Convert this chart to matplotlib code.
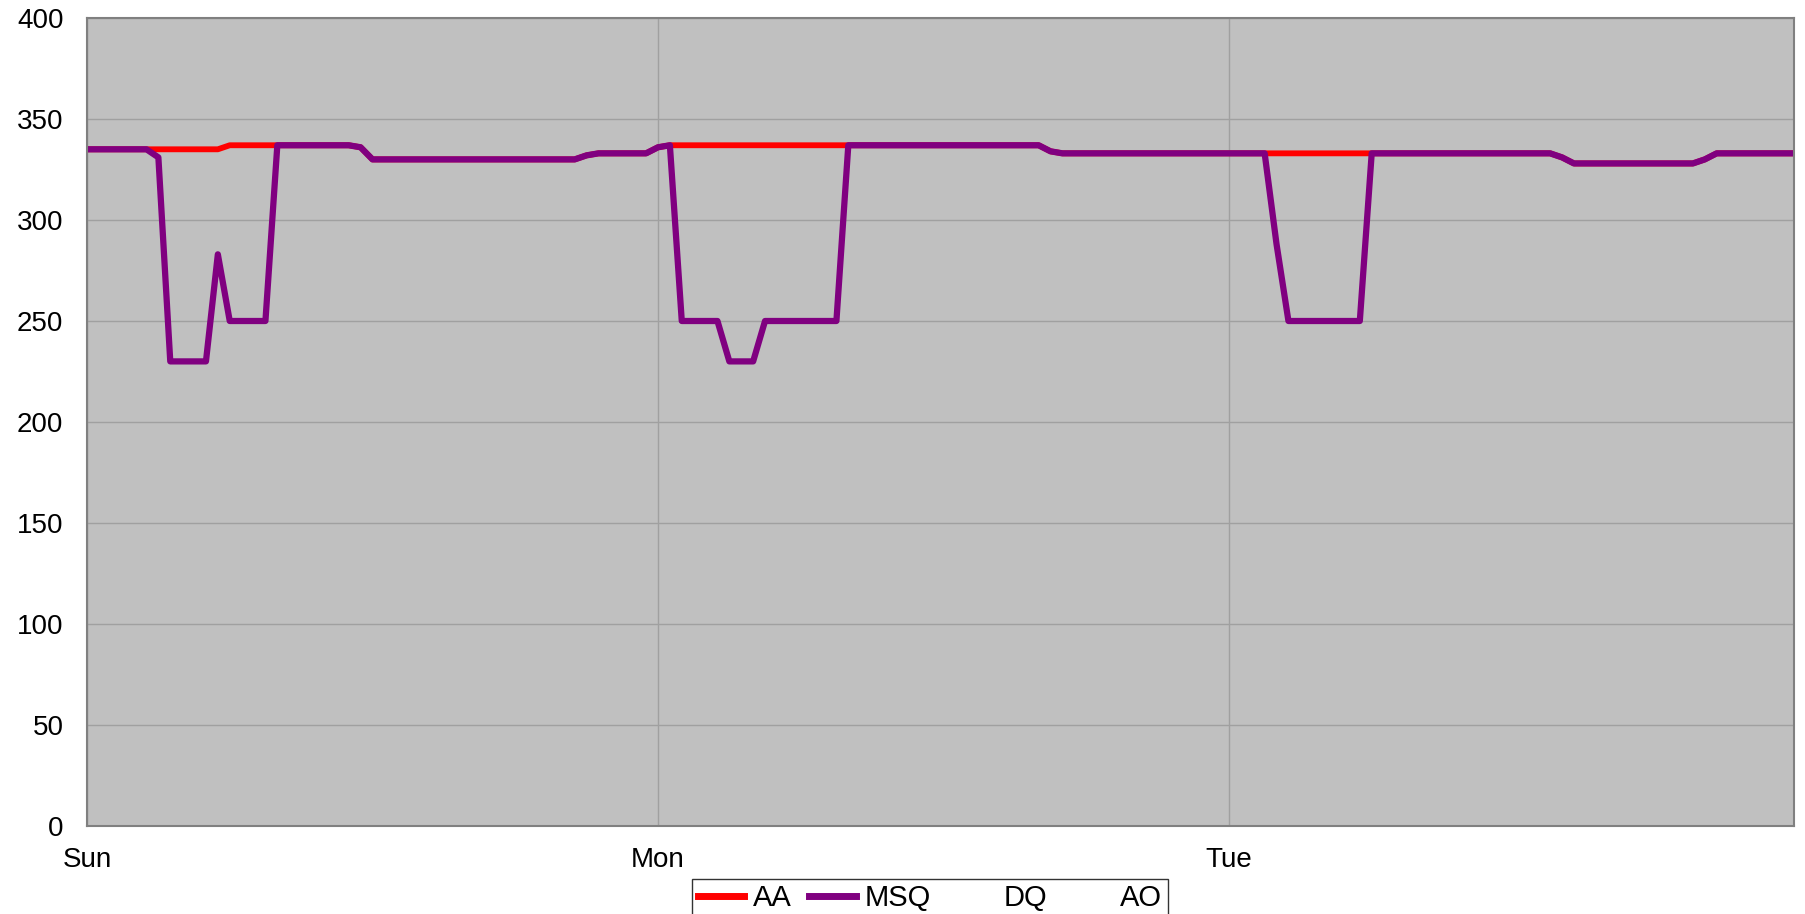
import numpy as np
import matplotlib.pyplot as plt

plt.rcParams['font.family'] = ['Liberation Sans', 'DejaVu Sans']

# half-hour samples over three days
days = ['Sun', 'Mon', 'Tue']
samples_per_day = 48

aa = ([335] * 12 + [337] * 11 + [336] + [330] * 18 + [332] + [333] * 5 + [336]
      + [337] * 32 + [334] + [333] * 42 + [331] + [328] * 11 + [330] + [333] * 8)
msq = ([335] * 6 + [331] + [230] * 4 + [283] + [250] * 4 + [337] * 7 + [336]
       + [330] * 18 + [332] + [333] * 5 + [336, 337] + [250] * 4 + [230] * 3
       + [250] * 7 + [337] * 17 + [334] + [333] * 18 + [288] + [250] * 7
       + [333] * 16 + [331] + [328] * 11 + [330] + [333] * 8)
dq = []
ao = []

t = np.arange(len(msq)) / samples_per_day

fig = plt.figure(figsize=(18.05, 9.14), dpi=100)
ax = fig.add_axes([87 / 1805, 1 - 826 / 914, (1794 - 87) / 1805, (826 - 18) / 914])
ax.set_facecolor('#c0c0c0')

ax.plot(t, aa, color='#ff0000', lw=4.2, solid_joinstyle='round', label='AA')
ax.plot(t, msq, color='#800080', lw=4.5, solid_joinstyle='round', label='MSQ')
ax.plot(dq, dq, color='white', lw=4, label='DQ')
ax.plot(ao, ao, color='white', lw=4, label='AO')

ax.set_xlim(0, 143.5 / samples_per_day)
ax.set_ylim(0, 400)
ax.set_yticks(np.arange(0, 401, 50))
ax.set_xticks(range(len(days)))
ax.set_xticklabels(days)
ax.tick_params(axis='both', length=0, labelsize=20)
ax.tick_params(axis='y', pad=17)
ax.tick_params(axis='x', pad=15)
ax.grid(True, color='#a0a0a0', lw=1)
ax.set_axisbelow(True)
for s in ax.spines.values():
    s.set_color('#808080')
    s.set_linewidth(1.5)

leg = fig.legend(loc='upper center', bbox_to_anchor=(930 / 1805, 1 - 883 / 914),
                 ncol=4, fontsize=21, frameon=True, fancybox=False,
                 handlelength=1.6, handletextpad=0.3, columnspacing=0.6,
                 borderpad=0.05, borderaxespad=0)
frame = leg.get_frame()
frame.set_boxstyle('square', pad=0.14)
frame.set_edgecolor('black')
frame.set_linewidth(1)
for line in leg.get_lines():
    line.set_linewidth(5)

fig.savefig('out.png', dpi=100)
